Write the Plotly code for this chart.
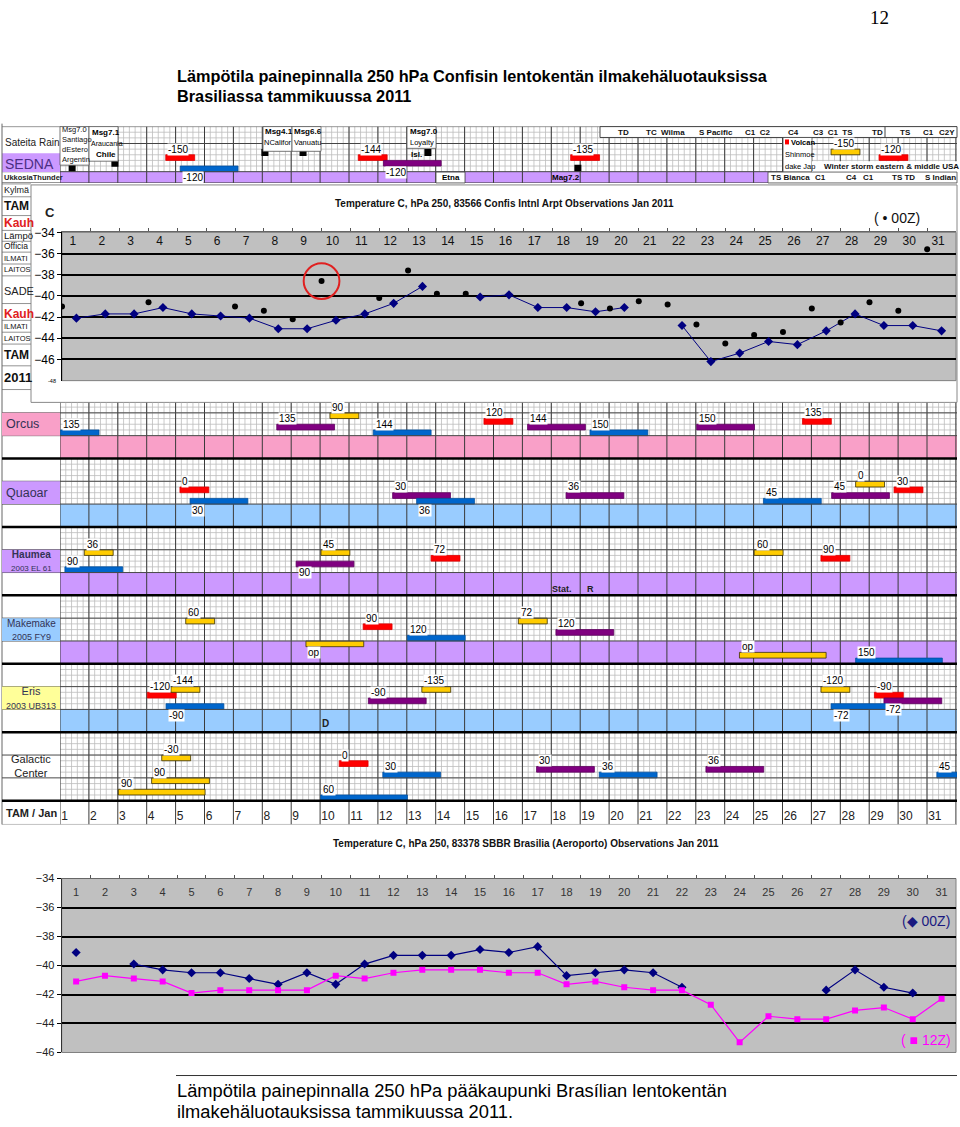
import plotly.graph_objects as go

# ---------------- DATA ----------------
days = list(range(1, 32))
temp_ticks = [-34, -36, -38, -40, -42, -44, -46]

# 83566 Confins, 250 hPa, Jan 2011 (line = 12Z, dots = 00Z)
confins_12z = [-42.1, -41.7, -41.7, -41.1, -41.7, -41.9, -42.1, -43.1, -43.1, -42.3,
               -41.7, -40.7, -39.1, None, -40.1, -39.9, -41.1, -41.1, -41.5, -41.1,
               None, -42.8, -46.2, -45.4, -44.3, -44.6, -43.3, -41.7, -42.8, -42.8, -43.3]
confins_00z_day = [0.5, 3.5, 6.5, 7.5, 8.5, 9.5, 11.5, 12.5, 13.5, 14.5, 18.5, 19.5,
                   20.5, 21.5, 22.5, 23.5, 24.5, 25.5, 26.5, 27.5, 28.5, 29.5, 30.5]
confins_00z = [-41.0, -40.6, -41.0, -41.4, -42.2, -38.6, -40.2, -37.6, -39.8, -39.8,
               -40.7, -41.2, -40.5, -40.8, -42.7, -44.5, -43.7, -43.4, -41.2, -42.5,
               -40.6, -41.4, -35.6]
circled_day, circled_val = 9.5, -38.6

# 83378 SBBR Brasilia, 250 hPa, Jan 2011
brasilia_00z = [-39.1, None, -39.9, -40.3, -40.5, -40.5, -40.9, -41.3, -40.5, -41.3,
                -39.9, -39.3, -39.3, -39.3, -38.9, -39.1, -38.7, -40.7, -40.5, -40.3,
                -40.5, -41.5, None, None, None, None, -41.7, -40.3, -41.5, -41.9, None]
brasilia_12z = [-41.1, -40.7, -40.9, -41.1, -41.9, -41.7, -41.7, -41.7, -41.7, -40.7,
                -40.9, -40.5, -40.3, -40.3, -40.3, -40.5, -40.5, -41.3, -41.1, -41.5,
                -41.7, -41.7, -42.7, -45.3, -43.5, -43.7, -43.7, -43.1, -42.9, -43.7, -42.3]

# aspect bars of the bodies (start day, length in days, colour kind, lane, label)
bodies = ["Orcus", "Quaoar", "Haumea", "Makemake", "Eris", "Galactic"]
asp_body = ["Orcus"] * 9 + ["Quaoar"] * 9 + ["Haumea"] * 7 + ["Makemake"] * 8 + ["Eris"] * 9 + ["Galactic"] * 10
asp_start = [1.02, 8.50, 10.34, 11.84, 15.67, 17.18, 19.34, 23.03, 26.69,
             5.15, 5.50, 12.51, 13.34, 18.51, 25.34, 27.70, 28.53, 29.86,
             1.84, 1.17, 10.03, 9.17, 13.84, 25.02, 27.33,
             5.35, 11.49, 13.02, 9.51, 16.86, 18.16, 24.51, 28.53,
             4.02, 4.84, 4.67, 11.67, 13.52, 27.33, 29.18, 29.51, 27.68,
             4.52, 4.17, 3.02, 10.66, 12.17, 10.02, 17.49, 19.66, 23.35, 31.34]
asp_len = [1.33, 2, 1, 2, 1, 2, 2, 2, 1,
           1, 2, 2, 2, 2, 2, 2, 1, 1,
           1, 2, 1, 2, 1, 1, 1,
           1, 1, 2, 2, 1, 2, 3, 3,
           1, 1, 2, 2, 1, 1, 1, 2, 2,
           1, 2, 3, 1, 2, 3, 2, 2, 2, 0.7]
asp_kind = ["blue", "purple", "yellow", "blue", "red", "purple", "blue", "purple", "red",
            "red", "blue", "purple", "blue", "purple", "blue", "purple", "yellow", "red",
            "yellow", "blue", "yellow", "purple", "red", "yellow", "red",
            "yellow", "red", "blue", "yellow", "yellow", "purple", "yellow", "blue",
            "red", "yellow", "blue", "purple", "yellow", "yellow", "red", "purple", "blue",
            "yellow", "yellow", "yellow", "red", "blue", "blue", "purple", "blue", "purple", "blue"]
asp_lane = [7, 6, 4, 7, 5, 6, 7, 6, 5,
            5, 7, 6, 7, 6, 7, 6, 4, 5,
            4, 7, 4, 6, 5, 4, 5,
            4, 5, 7, 8, 4, 6, 10, 11,
            5, 4, 7, 6, 4, 4, 5, 6, 7,
            4, 8, 10, 5, 7, 11, 6, 7, 6, 7]
asp_label = ["135", "135", "90", "144", "120", "144", "150", "150", "135",
             "0", "30", "30", "36", "36", "45", "45", "0", "30",
             "36", "90", "45", "90", "72", "60", "90",
             "60", "90", "120", "op", "72", "120", "op", "150",
             "-120", "-144", "-90", "-90", "-135", "-120", "-90", "-72", "-72",
             "-30", "90", "90", "0", "30", "60", "30", "36", "36", "45"]
asp_below = [0, 0, 0, 0, 0, 0, 0, 0, 0,
             0, 1, 0, 1, 0, 0, 0, 0, 0,
             0, 0, 0, 1, 0, 0, 0,
             0, 0, 0, 1, 0, 0, 0, 0,
             0, 0, 1, 0, 0, 0, 0, 1, 1,
             0, 0, 0, 0, 0, 0, 0, 0, 0, 0]

# Sedna strip
sedna_start = [4.66, 5.16, 11.32, 12.19, 18.67, 27.68, 29.34]
sedna_len = [1, 2, 1, 2, 1, 1, 1]
sedna_kind = ["red", "blue", "red", "purple", "red", "yellow", "red"]
sedna_lane = [5, 7, 5, 6, 5, 4, 5]
sedna_label = ["-150", "-120", "-144", "-120", "-135", "-150", "-120"]
sedna_below = [0, 1, 0, 1, 0, 0, 0]
quake_day = [1.42, 2.90, 8.09, 9.41, 13.73, 18.92]
quake_lane = [7.4, 6.5, 4.6, 4.6, 4.6, 7.4]

# ---------------- STYLE / LAYOUT ----------------
W, H = 960, 1127
def X(x): return x / W
def Y(y): return 1 - y / H

KIND_COL = {"red": "#ff0000", "blue": "#0066cc", "purple": "#800080", "yellow": "#ffcc00"}
KIND_LINE = {"red": "#e00000", "blue": "#004f9e", "purple": "#5e005e", "yellow": "#3a3000"}
BAND = {"Orcus": "#f9a0c8", "Quaoar": "#99ccff", "Haumea": "#cc99ff", "Makemake": "#cc99ff", "Eris": "#99ccff"}

MID_Y0, ROW = 387.5, 5.77
U_TOP = (400 - MID_Y0) / ROW
U_BOT = (827 - MID_Y0) / ROW
T_MAX = 1 + (957 - 60) / 28.9

shapes, ann = [], []

def text(x, y, s, size=10, color="black", bold=False, anchor="left", family="Arial", bg="rgba(0,0,0,0)"):
    ann.append(dict(xref="paper", yref="paper", x=X(x), y=Y(y), text=f"<b>{s}</b>" if bold else s,
                    showarrow=False, xanchor=anchor, yanchor="middle", bgcolor=bg, borderpad=0,
                    font=dict(size=size, color=color, family=family)))

def rect(x0, y0, x1, y1, fill="rgba(0,0,0,0)", line=None, lw=1, layer="below"):
    shapes.append(dict(type="rect", xref="paper", yref="paper", x0=X(x0), x1=X(x1), y0=Y(y1), y1=Y(y0),
                       fillcolor=fill, line=dict(color=line or "rgba(0,0,0,0)", width=lw if line else 0),
                       layer=layer))

def pline(x0, y0, x1, y1, color="black", width=1, layer="above"):
    shapes.append(dict(type="line", xref="paper", yref="paper", x0=X(x0), x1=X(x1), y0=Y(y0), y1=Y(y1),
                       line=dict(color=color, width=width), layer=layer))

fig = go.Figure()

# ---------- page texts ----------
text(879, 11, "12", size=19, family="Liberation Serif", anchor="center")
text(176, 70, "Lämpötila painepinnalla 250 hPa Confisin lentokentän ilmakehäluotauksissa", size=16.3, bold=True)
text(176, 90, "Brasiliassa tammikuussa 2011", size=16.3, bold=True)
text(176, 1096, "Lämpötila painepinnalla 250 hPa pääkaupunki Brasílian lentokentän", size=18.3)
text(176, 1117, "ilmakehäluotauksissa tammikuussa 2011.", size=18.3)
pline(176, 1081, 957, 1081, "#333", 1)

# ---------- top (Sedna) strip ----------
fx, fy = [], []
for i in range(156):
    t = 1 + 0.2 * i
    fx += [t, t, None]; fy += [0, 8, None]
for u in range(1, 8):
    fx += [1, T_MAX, None]; fy += [u, u, None]
fig.add_trace(go.Scatter(x=fx, y=fy, mode="lines", line=dict(color="#bdbdbd", width=0.8),
                         xaxis="x3", yaxis="y3", hoverinfo="skip", showlegend=False))
fig.add_trace(go.Scatter(x=[1, T_MAX, T_MAX, 1, 1], y=[8, 8, 10, 10, 8], mode="lines", fill="toself",
                         fillcolor="#cc99ff", line=dict(width=0), xaxis="x3", yaxis="y3",
                         hoverinfo="skip", showlegend=False))
dx, dy = [], []
for d in range(1, 33):
    dx += [d, d, None]; dy += [0, 10, None]
fig.add_trace(go.Scatter(x=dx, y=dy, mode="lines", line=dict(color="#3a3a3a", width=1),
                         xaxis="x3", yaxis="y3", hoverinfo="skip", showlegend=False))
fig.add_trace(go.Bar(orientation="h", base=sedna_start, x=sedna_len,
                     y=[l + 0.5 for l in sedna_lane], width=1.0,
                     marker=dict(color=[KIND_COL[k] for k in sedna_kind],
                                 line=dict(color=[KIND_LINE[k] for k in sedna_kind], width=0.8)),
                     xaxis="x6", yaxis="y6", hoverinfo="skip", showlegend=False))
fig.add_trace(go.Scatter(x=quake_day, y=quake_lane, mode="markers",
                         marker=dict(symbol="square", size=7, color="black"),
                         xaxis="x6", yaxis="y6", hoverinfo="skip", showlegend=False))
for s, l, lab, b in zip(sedna_start, sedna_lane, sedna_label, sedna_below):
    ann.append(dict(xref="x3", yref="y3", x=s + 0.05, y=(l + 2.1) if b else (l - 1.0), text=lab,
                    showarrow=False, xanchor="left", yanchor="middle", bgcolor="white", borderpad=0,
                    font=dict(size=10, color="black", family="Arial")))
for u, x0 in [(0, 2), (3, 60), (8, 2), (10, 2)]:
    shapes.append(dict(type="line", xref="paper", yref="y3", x0=X(x0), x1=X(957), y0=u, y1=u,
                       line=dict(color="#444", width=1), layer="above"))

# left column of strip
text(4, 137, "Sateita Rain", size=10, color="#222")
rect(2, 148, 60, 167, fill="#cc99ff", layer="above")
text(4, 158.5, "SEDNA", size=14, color="#4b2e83")
text(3, 172.5, "UkkosiaThunder", size=7.5, color="#222", bold=True)
# white text cells in the strip
rect(60, 121, 89, 160, fill="white", line="#555", lw=0.8, layer="above")
rect(89, 121, 118, 156, fill="white", line="#555", lw=0.8, layer="above")
rect(263, 121, 292, 146, fill="white", line="#555", lw=0.8, layer="above")
rect(292, 121, 321, 146, fill="white", line="#555", lw=0.8, layer="above")
rect(407, 121, 436, 143, fill="white", line="#555", lw=0.8, layer="above")
rect(600, 121, 957, 132, fill="white", line="#444", lw=1, layer="above")
rect(783, 132, 812, 167, fill="white", line="#444", lw=0.8, layer="above")
rect(812, 156, 957, 167, fill="white", layer="above")
rect(768, 167, 957, 178, fill="white", line="#444", lw=0.8, layer="above")
rect(436, 167, 465, 178, fill="white", line="#444", lw=0.8, layer="above")
pline(885, 121, 885, 132, "#444", 1)
for s, yy in [("Msg7.0", 124), ("Santiago", 134), ("dEstero", 144), ("Argentin", 154)]:
    text(61, yy, s, size=7.5, color="#111")
text(91, 127, "Msg7.1", size=8, bold=True)
text(90, 138, "Araucania", size=7)
text(95, 149, "Chile", size=8, bold=True)
text(264, 126, "Msg4.1", size=8, bold=True)
text(263, 137, "NCalifor", size=7.5)
text(293, 126, "Msg6.6", size=8, bold=True)
text(293, 137, "Vanuatu", size=7.5)
text(409, 126, "Msg7.0", size=8, bold=True)
text(409, 137, "Loyalty", size=7.5)
text(410, 149, "Isl.", size=8, bold=True)
for s, xx in [("TD", 623), ("TC  Wilma", 665), ("S Pacific", 716), ("C1  C2", 757), ("C4", 793),
              ("C3  C1  TS", 833), ("TD", 877), ("TS", 905), ("C1", 928), ("C2Y", 947)]:
    text(xx, 126.5, s, size=8, bold=True, anchor="center", color="#111")
rect(785, 134, 789, 139, fill="#ff0000", layer="above")
text(790, 137.5, "Volcan", size=7.5, bold=True)
text(784, 149, "Shinmoe", size=7.5)
text(784, 161, "dake Jap", size=7.5)
text(891, 161, "Winter storm eastern & middle USA", size=8, bold=True, anchor="center", color="#111")
for s, xx in [("TS Bianca", 790), ("C1", 820), ("C4", 851), ("C1", 868), ("TS TD", 903), ("S Indian", 940)]:
    text(xx, 172.5, s, size=8, bold=True, anchor="center", color="#111")
text(451, 172.5, "Etna", size=8, bold=True, anchor="center")
text(566, 172.5, "Mag7.2", size=8, bold=True, anchor="center")

# ---------- left column texts behind the top chart ----------
for s, yy, sz, col, b in [("Kylmä", 185, 9, "#222", False), ("TAM", 201, 12, "#111", True),
                          ("Kauh", 219, 12, "#e02020", True), ("Lämpö", 231, 9.5, "#111", False),
                          ("Officia", 242, 8.5, "#111", False), ("ILMATI", 254, 7.5, "#111", False),
                          ("LAITOS", 266, 7.5, "#111", False), ("SADE", 287, 11, "#222", False),
                          ("Kauh", 311, 12, "#e02020", True), ("ILMATI", 323, 7.5, "#111", False),
                          ("LAITOS", 335, 7.5, "#111", False), ("TAM", 352, 12, "#111", True),
                          ("2011", 375, 13, "#111", True)]:
    text(3, yy, s, size=sz, color=col, bold=b)
for yy in [179, 192, 211, 226, 237, 248, 260, 272, 300, 317, 329, 341, 363, 387]:
    pline(2, yy, 31, yy, "#777", 0.8)
pline(2, 118, 2, 827, "#666", 1)

# ---------- top chart ----------
rect(31, 180, 957, 400, fill="white", line="#888", lw=1, layer="below")
shapes.append(dict(type="rect", xref="x domain", yref="y domain", x0=0, x1=1, y0=0, y1=1,
                   fillcolor="#c0c0c0", line=dict(color="#808080", width=1), layer="below"))
text(505, 199, "Temperature C, hPa 250, 83566 Confis Intnl Arpt Observations Jan 2011", size=10,
     bold=True, anchor="center", color="#111")
text(44, 208, "C", size=13, color="#222", bold=True)
text(897, 213, "( \u2022 00Z)", size=14, anchor="center", color="#111")
text(52, 378, "-48", size=5.5, anchor="center")
fig.add_trace(go.Scatter(x=days, y=confins_12z, mode="lines+markers", connectgaps=False,
                         line=dict(color="#000080", width=1),
                         marker=dict(symbol="diamond", size=7, color="#000080"),
                         xaxis="x", yaxis="y", hoverinfo="skip", showlegend=False))
fig.add_trace(go.Scatter(x=confins_00z_day, y=confins_00z, mode="markers",
                         marker=dict(size=6, color="black"),
                         xaxis="x", yaxis="y", hoverinfo="skip", showlegend=False))
fig.add_trace(go.Scatter(x=[d - 0.12 for d in days], y=[-34.95] * 31, mode="text",
                         text=[str(d) for d in days], textfont=dict(size=12, color="#111", family="Arial"),
                         xaxis="x", yaxis="y", hoverinfo="skip", showlegend=False))
shapes.append(dict(type="circle", xref="x", yref="y", x0=circled_day - 0.62, x1=circled_day + 0.62,
                   y0=circled_val - 1.68, y1=circled_val + 1.68, line=dict(color="#e02020", width=2)))

# ---------- middle (bodies) section ----------
fx, fy = [], []
for i in range(156):
    t = 1 + 0.2 * i
    fx += [t, t, None]; fy += [U_TOP, 72, None]
for u in range(3, 72):
    fx += [1, T_MAX, None]; fy += [u, u, None]
fig.add_trace(go.Scatter(x=fx, y=fy, mode="lines", line=dict(color="#bdbdbd", width=0.8),
                         xaxis="x2", yaxis="y2", hoverinfo="skip", showlegend=False))
for k, b in enumerate(bodies):
    if b in BAND:
        u0 = 12 * k + 8
        fig.add_trace(go.Scatter(x=[1, T_MAX, T_MAX, 1, 1], y=[u0, u0, u0 + 4, u0 + 4, u0],
                                 mode="lines", fill="toself", fillcolor=BAND[b], line=dict(width=0),
                                 xaxis="x2", yaxis="y2", hoverinfo="skip", showlegend=False))
dx, dy = [], []
for d in range(1, 33):
    dx += [d, d, None]; dy += [U_TOP, U_BOT, None]
fig.add_trace(go.Scatter(x=dx, y=dy, mode="lines", line=dict(color="#3a3a3a", width=1),
                         xaxis="x2", yaxis="y2", hoverinfo="skip", showlegend=False))
fig.add_trace(go.Scatter(x=[d + 0.04 for d in days], y=[74.8] * 31, mode="text",
                         text=[str(d) for d in days], textposition="middle right",
                         textfont=dict(size=12, color="#222", family="Arial"),
                         xaxis="x2", yaxis="y2", hoverinfo="skip", showlegend=False))

asp_y = [12 * bodies.index(b) + l + 0.5 for b, l in zip(asp_body, asp_lane)]
fig.add_trace(go.Bar(orientation="h", base=asp_start, x=asp_len, y=asp_y, width=1.0,
                     marker=dict(color=[KIND_COL[k] for k in asp_kind],
                                 line=dict(color=[KIND_LINE[k] for k in asp_kind], width=0.8)),
                     xaxis="x5", yaxis="y5", hoverinfo="skip", showlegend=False))
for b, s, l, lab, bl in zip(asp_body, asp_start, asp_lane, asp_label, asp_below):
    base = 12 * bodies.index(b)
    ann.append(dict(xref="x2", yref="y2", x=s + 0.05, y=base + ((l + 2.05) if bl else (l - 1.0)),
                    text=lab, showarrow=False, xanchor="left", yanchor="middle", bgcolor="white",
                    borderpad=0, font=dict(size=10, color="black", family="Arial")))

for u in [4, 8, 16, 20, 28, 32, 40, 44, 52, 56, 64, 68]:
    shapes.append(dict(type="line", xref="paper", yref="y2", x0=X(2), x1=X(957), y0=u, y1=u,
                       line=dict(color="#4a4a4a", width=1), layer="above"))
for u in [12, 24, 36, 48, 60, 72]:
    shapes.append(dict(type="line", xref="paper", yref="y2", x0=X(2), x1=X(957), y0=u, y1=u,
                       line=dict(color="black", width=2.5), layer="above"))
shapes.append(dict(type="line", xref="paper", yref="y2", x0=X(2), x1=X(957), y0=U_BOT, y1=U_BOT,
                   line=dict(color="#888", width=1), layer="above"))

LABEL_BOX = {"Orcus": "#f9a0c8", "Quaoar": "#cc99ff", "Haumea": "#cc99ff", "Makemake": "#99ccff",
             "Eris": "#ffff99"}
for k, b in enumerate(bodies):
    if b in LABEL_BOX:
        shapes.append(dict(type="rect", xref="paper", yref="y2", x0=X(2), x1=X(60),
                           y0=12 * k + 4, y1=12 * k + 8, fillcolor=LABEL_BOX[b],
                           line=dict(width=0), layer="above"))
def body_label(k, s, size, anchor="left", x=5, bold=False, color="#333355"):
    ann.append(dict(xref="paper", yref="y2", x=X(x), y=12 * k + 6, text=f"<b>{s}</b>" if bold else s,
                    showarrow=False, xanchor=anchor, yanchor="middle", borderpad=0,
                    font=dict(size=size, color=color, family="Arial")))
body_label(0, "Orcus", 12.5)
body_label(1, "Quaoar", 12.5)
body_label(2, "<b>Haumea</b><br><span style='font-size:8px'>2003 EL 61</span>", 10, "center", 31)
body_label(3, "Makemake<br><span style='font-size:9px'>2005 FY9</span>", 10, "center", 31)
body_label(4, "Eris<br><span style='font-size:9px'>2003 UB313</span>", 11, "center", 31)
body_label(5, "Galactic<br>Center", 11, "center", 31, color="#222")
ann.append(dict(xref="paper", yref="y2", x=X(31), y=74.2, text="<b>TAM / Jan</b>", showarrow=False,
                xanchor="center", yanchor="middle", font=dict(size=11, color="#222", family="Arial")))
ann.append(dict(xref="x2", yref="y2", x=17.95, y=34.9, text="<b>Stat.</b>", showarrow=False,
                xanchor="left", yanchor="middle", font=dict(size=9, color="#222", family="Arial")))
ann.append(dict(xref="x2", yref="y2", x=19.15, y=34.9, text="<b>R</b>", showarrow=False,
                xanchor="left", yanchor="middle", font=dict(size=9, color="#222", family="Arial")))
ann.append(dict(xref="x2", yref="y2", x=10.2, y=58.5, text="<b>D</b>", showarrow=False,
                xanchor="center", yanchor="middle", font=dict(size=10, color="#222", family="Arial")))

# ---------- bottom chart ----------
shapes.append(dict(type="rect", xref="x4 domain", yref="y4 domain", x0=0, x1=1, y0=0, y1=1,
                   fillcolor="#c0c0c0", line=dict(color="#808080", width=1), layer="below"))
text(526, 846, "Temperature C, hPa 250, 83378 SBBR Brasilia (Aeroporto) Observations Jan 2011",
     size=10, bold=True, anchor="center", color="#111")
fig.add_trace(go.Scatter(x=days, y=brasilia_00z, mode="lines+markers", connectgaps=False,
                         line=dict(color="#000080", width=1.2),
                         marker=dict(symbol="diamond", size=7, color="#000080"),
                         xaxis="x4", yaxis="y4", hoverinfo="skip", showlegend=False))
fig.add_trace(go.Scatter(x=days, y=brasilia_12z, mode="lines+markers", connectgaps=False,
                         line=dict(color="#ff00ff", width=1.2),
                         marker=dict(symbol="square", size=6, color="#ff00ff"),
                         xaxis="x4", yaxis="y4", hoverinfo="skip", showlegend=False))
fig.add_trace(go.Scatter(x=days, y=[-35.04] * 31, mode="text", text=[str(d) for d in days],
                         textfont=dict(size=11, color="#333", family="Arial"),
                         xaxis="x4", yaxis="y4", hoverinfo="skip", showlegend=False))
text(926, 925, "(\u25c6 00Z)", size=14, anchor="center", color="#1a1a80")
text(926, 1045, "( \u25a0 12Z)", size=14, anchor="center", color="#ff00ff")

# ---------- axes ----------
hidden = dict(visible=False, showgrid=False, zeroline=False, fixedrange=True)
fig.update_layout(
    width=W, height=H, margin=dict(l=0, r=0, t=0, b=0),
    paper_bgcolor="white", plot_bgcolor="rgba(0,0,0,0)", barmode="overlay", showlegend=False,
    xaxis=dict(domain=[X(62), X(956)], range=[0.5, 31.5], anchor="y", side="top", showgrid=False,
               zeroline=False, showticklabels=False, ticks="outside", ticklen=3, tickcolor="#555",
               tickvals=[d + 0.5 for d in range(1, 31)], showline=True, linecolor="#666"),
    yaxis=dict(domain=[Y(378), Y(228)], range=[-48, -34], anchor="x", tickvals=temp_ticks,
               ticks="outside", ticklen=4, tickcolor="black", showline=True, linecolor="black",
               showgrid=True, gridcolor="black", gridwidth=1.5, zeroline=False,
               tickfont=dict(family="Arial", size=12, color="black")),
    xaxis4=dict(domain=[X(61.7), X(956)], range=[0.5, 31.5], anchor="y4", side="top", showgrid=False,
                zeroline=False, showticklabels=False, ticks="outside", ticklen=3, tickcolor="#555",
                tickvals=[d + 0.5 for d in range(1, 31)], showline=True, linecolor="#666"),
    yaxis4=dict(domain=[Y(1057.7), Y(881.7)], range=[-46, -34], anchor="x4", tickvals=temp_ticks,
                ticks="outside", ticklen=4, tickcolor="black", showline=True, linecolor="#333",
                showgrid=True, gridcolor="black", gridwidth=1.5, zeroline=False,
                tickfont=dict(family="Arial", size=11, color="#222")),
    xaxis2=dict(domain=[X(60), X(957)], range=[1, T_MAX], anchor="y2", **hidden),
    yaxis2=dict(domain=[Y(827), Y(400)], range=[U_BOT, U_TOP], anchor="x2", **hidden),
    xaxis5=dict(overlaying="x2", range=[1, T_MAX], anchor="y5", **hidden),
    yaxis5=dict(overlaying="y2", range=[U_BOT, U_TOP], anchor="x5", **hidden),
    xaxis3=dict(domain=[X(60), X(957)], range=[1, T_MAX], anchor="y3", **hidden),
    yaxis3=dict(domain=[Y(178), Y(121)], range=[10, 0], anchor="x3", **hidden),
    xaxis6=dict(overlaying="x3", range=[1, T_MAX], anchor="y6", **hidden),
    yaxis6=dict(overlaying="y3", range=[10, 0], anchor="x6", **hidden),
    shapes=shapes, annotations=ann,
)

fig.write_html("out.html", config={"displayModeBar": False},
               post_script="document.body.style.margin='0';")
